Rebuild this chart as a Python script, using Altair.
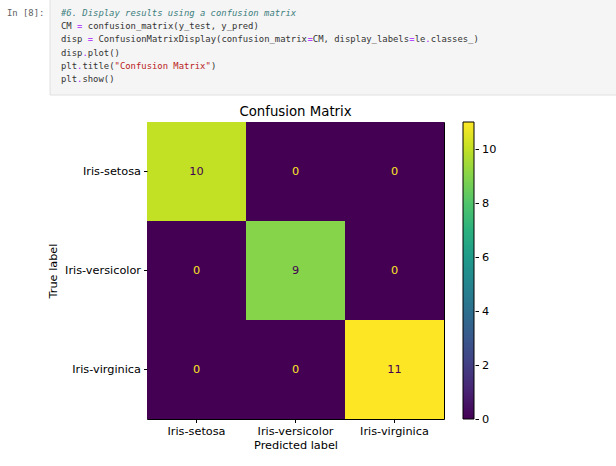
import altair as alt
import pandas as pd

classes = ["Iris-setosa", "Iris-versicolor", "Iris-virginica"]
counts = [[10, 0, 0],
          [0, 9, 0],
          [0, 0, 11]]
cbar_ticks = [0, 2, 4, 6, 8, 10]
cmax = 11
chart_title = "Confusion Matrix"
code_lines = [
    "#6. Display results using a confusion matrix",
    "CM = confusion_matrix(y_test, y_pred)",
    "disp = ConfusionMatrixDisplay(confusion_matrix=CM, display_labels=le.classes_)",
    "disp.plot()",
    'plt.title("Confusion Matrix")',
    "plt.show()",
]
prompt = "In [8]:"

rows = []
for i, t in enumerate(classes):
    for j, p in enumerate(classes):
        rows.append({"true": t, "pred": p, "count": counts[i][j]})
df = pd.DataFrame(rows)

W, H = 297, 297
L, T = 147, 122
FS_CODE = 8.9
CW = FS_CODE * 1233 / 2048   # DejaVu Sans Mono advance
LH = 13.2                    # code line height
FONT = "DejaVu Sans"
MONO = "DejaVu Sans Mono"


# split code into syntax-coloured tokens
def classify(line_idx, line):
    cls = []
    in_str = False
    for ch in line:
        if line_idx == 0:
            cls.append("comment")
        elif ch == '"':
            cls.append("string")
            in_str = not in_str
        elif in_str:
            cls.append("string")
        elif ch in "=.":
            cls.append("op")
        else:
            cls.append("plain")
    return cls


styles = {
    "plain": dict(color="#333333", fontStyle="normal"),
    "comment": dict(color="#408080", fontStyle="italic"),
    "string": dict(color="#BA2121", fontStyle="normal"),
    "op": dict(color="#AA22FF", fontStyle="normal"),
}
tokens = []
for i, ln in enumerate(code_lines):
    c = classify(i, ln)
    start = 0
    for k in range(1, len(ln) + 1):
        if k == len(ln) or c[k] != c[start]:
            tok = ln[start:k]
            lead = len(tok) - len(tok.lstrip(" "))
            if tok.strip(" "):
                tokens.append((i, start + lead, tok.strip(" "), c[start]))
            start = k

base = alt.Chart(df)
xenc = alt.X("pred:N", sort=classes, title="Predicted label",
             scale=alt.Scale(paddingInner=0, paddingOuter=0),
             axis=alt.Axis(labelAngle=0, tickSize=3.5, domain=False, labelPadding=3,
                           titleFontWeight="normal", titlePadding=3))
yenc = alt.Y("true:N", sort=classes, title="True label",
             scale=alt.Scale(paddingInner=0, paddingOuter=0),
             axis=alt.Axis(tickSize=3.5, domain=False, labelPadding=3,
                           titleFontWeight="normal", titlePadding=6))
cscale = alt.Scale(scheme="viridis", domain=[0, cmax])

heat = base.mark_rect().encode(
    x=xenc, y=yenc,
    color=alt.Color("count:Q", scale=cscale,
                    legend=alt.Legend(orient="none", legendX=316, legendY=0,
                                      direction="vertical", gradientLength=H,
                                      gradientThickness=11, title=None,
                                      labelExpr="''", labelOpacity=0,
                                      gradientStrokeColor="black",
                                      gradientStrokeWidth=1)),
)
txt = base.mark_text(font=FONT, fontSize=11.3).encode(
    x=alt.X("pred:N", sort=classes), y=alt.Y("true:N", sort=classes),
    text="count:Q",
    color=alt.condition("datum.count > 5.5", alt.value("#440154"), alt.value("#fde725")),
)
grid = alt.layer(heat, txt)

cb = alt.Chart(pd.DataFrame({"v": cbar_ticks})).mark_point(opacity=0).encode(
    y=alt.Y("v:Q", scale=alt.Scale(domain=[0, cmax]), title=None,
            axis=alt.Axis(orient="right", offset=31, values=cbar_ticks, domain=False,
                          tickSize=3.5, labelPadding=3, grid=False, format="d"))
)

title_t = alt.Chart(pd.DataFrame({"t": [chart_title]})).mark_text(
    font=FONT, fontSize=13.3, align="center", baseline="alphabetic", color="#000000").encode(
    x=alt.value(W / 2), y=alt.value(-6), text="t:N")

# notebook code cell decoration
cell_bg = alt.Chart(pd.DataFrame({"a": [0]})).mark_rect(
    fill="#f5f5f5", stroke="#e0e0e0", strokeWidth=1).encode(
    x=alt.value(50 - L), x2=alt.value(640 - L), y=alt.value(-5 - T), y2=alt.value(95 - T))
prompt_t = alt.Chart(pd.DataFrame({"t": [prompt]})).mark_text(
    font=MONO, fontSize=FS_CODE, align="left", baseline="middle", color="#616161").encode(
    x=alt.value(7 - L), y=alt.value(13 - T), text="t:N")

code_layers = []
for (li, col, tok, k) in tokens:
    code_layers.append(
        alt.Chart(pd.DataFrame({"t": [tok]})).mark_text(
            font=MONO, fontSize=FS_CODE, align="left", baseline="middle",
            **styles[k]).encode(
            x=alt.value(61 - L + col * CW), y=alt.value(13 - T + li * LH), text="t:N")
    )

chart = alt.layer(cell_bg, prompt_t, *code_layers, title_t, grid, cb).resolve_scale(
    y="independent"
).properties(
    width=W, height=H,
    autosize=alt.AutoSizeParams(type="none"),
    padding={"left": L, "top": T, "right": 616 - L - W, "bottom": 466 - T - H},
).configure_view(stroke="black", strokeWidth=1).configure_axis(
    labelFont=FONT, titleFont=FONT, labelFontSize=11.3, titleFontSize=11.3,
    labelColor="#000000", titleColor="#000000", tickColor="#000000",
    titleFontWeight="normal",
)

chart.save("out.html", embed_options={"renderer": "svg", "actions": False})
